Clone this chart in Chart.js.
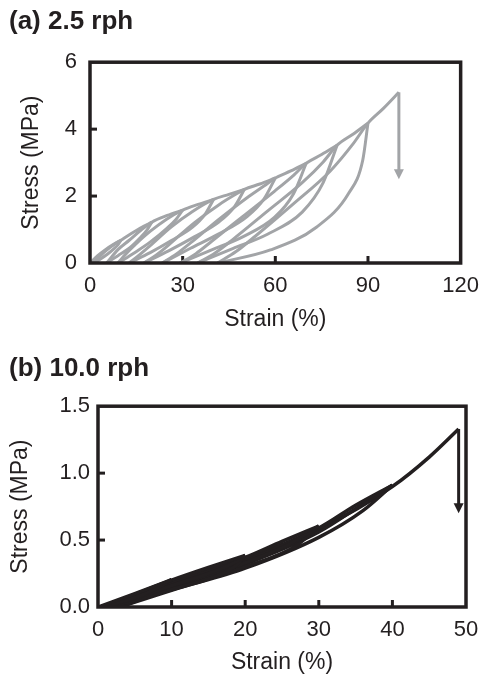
<!DOCTYPE html>
<html><head><meta charset="utf-8">
<script src="https://cdn.jsdelivr.net/npm/chart.js@4.4.0/dist/chart.umd.min.js"></script>
<style>
html,body{margin:0;padding:0;background:#fff;}
#wa{position:absolute;left:0;top:0;width:489px;height:340px;}
#wb{position:absolute;left:0;top:340px;width:489px;height:336px;}
</style></head><body>
<div id="wa"><canvas id="ca"></canvas></div>
<div id="wb"><canvas id="cb"></canvas></div>
<script>
// ---------- (a) 2.5 rph : [strain %, stress MPa] ----------
const a_load10   = [[0,0],[2.5,0.22],[5,0.4],[7.5,0.55],[10,0.68]];
const a_unload10 = [[1.2,0],[3.4,0.12],[5.6,0.26],[7.8,0.43],[9.1,0.55],[10,0.68]];
const a_load20   = [[1.2,0],[3.4,0.22],[5.6,0.4],[7.8,0.55],[10,0.68],[12.5,0.83],[15,0.97],[17.5,1.1],[20,1.22]];
const a_unload20 = [[5.4,0],[9.05,0.22],[12.7,0.44],[16.35,0.76],[18.5,0.99],[20,1.22]];
const a_load30   = [[5.4,0],[9.05,0.4],[12.7,0.68],[16.35,0.97],[20,1.22],[25,1.42],[30,1.58]];
const a_unload30 = [[9.1,0],[14.3,0.3],[19.55,0.63],[24.8,1.03],[27.9,1.31],[30,1.58]];
const a_load40   = [[9.1,0],[11.7,0.28],[14.3,0.52],[19.55,0.95],[24.8,1.31],[30,1.58],[35,1.75],[40,1.9]];
const a_unload40 = [[12.7,0],[19.5,0.31],[26.35,0.67],[33.2,1.07],[37.3,1.46],[40,1.9]];
const a_load50   = [[12.7,0],[16.1,0.25],[19.5,0.52],[26.35,1.08],[33.2,1.54],[40,1.9],[45,2.05],[50,2.2]];
const a_unload50 = [[17.5,0],[25.6,0.37],[33.75,0.78],[41.9,1.24],[46.75,1.68],[50,2.2]];
const a_load60   = [[17.5,0],[21.6,0.25],[25.6,0.55],[33.75,1.2],[41.9,1.75],[46.75,2.03],[50,2.2],[55,2.36],[60,2.54]];
const a_unload60 = [[23.4,0],[32.55,0.44],[41.7,0.87],[50.85,1.39],[56.3,1.91],[60,2.54]];
const a_load70   = [[23.4,0],[28,0.27],[32.55,0.6],[41.7,1.3],[50.85,1.95],[56.3,2.3],[60,2.54],[65,2.75],[70,2.98]];
const a_unload70 = [[29.2,0],[39.4,0.39],[49.6,0.79],[59.8,1.37],[65.9,2.07],[70,2.98]];
const a_load80   = [[29.2,0],[34.3,0.28],[39.4,0.65],[49.6,1.4],[59.8,2.15],[65.9,2.62],[70,2.98],[75,3.24],[80,3.52]];
const a_unload80 = [[34.9,0],[46.2,0.43],[57.45,0.86],[68.7,1.52],[75.5,2.4],[80,3.52]];
const a_load90   = [[34.9,0],[40.5,0.3],[46.2,0.7],[57.45,1.55],[68.7,2.4],[75.5,3.02],[80,3.52],[85,3.84],[90,4.18]];
const a_unload90 = [[41.3,0],[58.4,0.39],[73.3,1.07],[83.8,2.09],[88.3,3.07],[90,4.18]];
const a_load100  = [[41.3,0],[47.4,0.35],[53.5,0.8],[65.65,1.75],[77.8,2.75],[85.1,3.55],[90,4.18],[95,4.62],[100,5.1]];
const a_breakStrain = 100;
const a_breakStress = [5.1, 2.5];
const a_xTicks = [0,30,60,90,120];
const a_xTickLabels = ['0','30','60','90','120'];
const a_yTicks = [0,2,4,6];
const a_yTickLabels = ['0','2','4','6'];

// ---------- (b) 10.0 rph ----------
const b_load10    = [[0,0],[5,0.1],[10,0.205]];
const b_unload10  = [[0.5,0],[5,0.07],[8,0.14],[10,0.205]];
const b_load20    = [[0.5,0],[5,0.095],[10,0.2],[15,0.295],[20,0.385]];
const b_unload20a = [[1,0],[5,0.065],[10,0.16],[15,0.25],[18.5,0.33],[20,0.385]];
const b_unload20b = [[1.5,0],[5,0.05],[10,0.13],[15,0.21],[18.5,0.3],[20,0.385]];
const b_load30    = [[1.5,0],[10,0.19],[20,0.37],[25,0.49],[30,0.605]];
const b_unload30a = [[2,0],[10,0.15],[20,0.33],[26,0.47],[30,0.605]];
const b_unload30b = [[2.5,0],[10,0.13],[20,0.3],[27,0.46],[30,0.605]];
const b_load40    = [[2.5,0],[10,0.175],[20,0.36],[30,0.59],[35,0.76],[40,0.91]];
const b_unload40a = [[3,0],[10,0.14],[20,0.32],[30,0.56],[36,0.77],[40,0.91]];
const b_unload40b = [[3,0],[10,0.125],[20,0.29],[30,0.52],[36,0.72],[40,0.91]];
const b_load50    = [[3,0],[10,0.16],[20,0.35],[30,0.58],[40,0.9],[45,1.12],[49,1.33]];
const b_breakStrain = 49;
const b_breakStress = [1.33, 0.7];
const b_xTicks = [0,10,20,30,40,50];
const b_xTickLabels = ['0','10','20','30','40','50'];
const b_yTicks = [0,0.5,1.0,1.5];
const b_yTickLabels = ['0.0','0.5','1.0','1.5'];

const INK = '#231f20';
const GRAY = '#a2a4a7';
Chart.defaults.font.family = "'Liberation Sans', Arial, sans-serif";
Chart.defaults.color = INK;

function ds(arr, color, w) {
  return {data: arr.map(p => ({x: p[0], y: p[1]})), borderColor: color, borderWidth: w,
    pointRadius: 0, fill: false, cubicInterpolationMode: 'monotone', tension: 0.4};
}

const framePlugin = {
  id: 'frame',
  beforeDatasetsDraw(chart) {
    const {ctx, chartArea: ca, scales: {x, y}} = chart;
    ctx.save();
    ctx.strokeStyle = INK; ctx.lineWidth = 3;
    x.ticks.forEach(t => {
      if (t.value <= x.min || t.value >= x.max) return;
      const px = x.getPixelForValue(t.value);
      ctx.beginPath(); ctx.moveTo(px, ca.bottom); ctx.lineTo(px, ca.bottom - 7); ctx.stroke();
    });
    y.ticks.forEach(t => {
      if (t.value <= y.min || t.value >= y.max) return;
      const py = y.getPixelForValue(t.value);
      ctx.beginPath(); ctx.moveTo(ca.left, py); ctx.lineTo(ca.left + 7, py); ctx.stroke();
    });
    ctx.restore();
  },
  afterDatasetsDraw(chart, args, opts) {
    const {ctx, chartArea: ca, scales: {x, y}} = chart;
    ctx.save();
    const a = opts.arrow;
    if (a) {
      const xp = x.getPixelForValue(a.x);
      const y1 = y.getPixelForValue(a.from), y2 = y.getPixelForValue(a.to);
      const hl = 10, hw = 5;
      ctx.strokeStyle = a.color; ctx.lineWidth = 3;
      ctx.beginPath(); ctx.moveTo(xp, y1); ctx.lineTo(xp, y2 - hl + 1); ctx.stroke();
      ctx.fillStyle = a.color;
      ctx.beginPath(); ctx.moveTo(xp - hw, y2 - hl); ctx.lineTo(xp + hw, y2 - hl); ctx.lineTo(xp, y2); ctx.closePath(); ctx.fill();
    }
    ctx.strokeStyle = INK; ctx.lineWidth = 3.5;
    ctx.strokeRect(ca.left, ca.top, ca.right - ca.left, ca.bottom - ca.top);
    ctx.restore();
  }
};

function makeChart(id, o) {
  return new Chart(document.getElementById(id), {
    type: 'line',
    data: {datasets: o.datasets},
    options: {
      responsive: true, maintainAspectRatio: false, animation: false,
      layout: {padding: {left: 9, right: o.padR, top: 0, bottom: 0}},
      plugins: {
        legend: {display: false}, tooltip: {enabled: false},
        title: {display: true, text: o.title, align: 'start', color: INK,
          font: {size: 26, weight: 'bold', lineHeight: 1.2}, padding: {top: o.tPadT, bottom: o.tPadB}},
        frame: {arrow: o.arrow}
      },
      scales: {
        x: {
          type: 'linear', min: o.xTicks[0], max: o.xTicks[o.xTicks.length - 1],
          afterBuildTicks: s => { s.ticks = o.xTicks.map(v => ({value: v})); },
          afterFit: s => { s.height = o.xH; },
          grid: {display: false, drawTicks: false}, border: {display: false},
          ticks: {font: {size: 22}, color: INK, padding: 10, autoSkip: false, maxRotation: 0,
            callback: (v, i) => o.xLabels[i]},
          title: {display: true, text: 'Strain (%)', color: INK, font: {size: 23, lineHeight: 1.2},
            padding: {top: 0, bottom: o.xtPad}}
        },
        y: {
          type: 'linear', min: o.yTicks[0], max: o.yTicks[o.yTicks.length - 1],
          afterBuildTicks: s => { s.ticks = o.yTicks.map(v => ({value: v})); },
          afterFit: s => { s.width = o.yW; },
          grid: {display: false, drawTicks: false}, border: {display: false},
          ticks: {font: {size: 22}, color: INK, padding: o.yPad, autoSkip: false,
            callback: (v, i) => o.yLabels[i]},
          title: {display: true, text: 'Stress (MPa)', color: INK, font: {size: 23, lineHeight: 1.2},
            padding: {top: o.ytPad, bottom: 0}}
        }
      }
    },
    plugins: [framePlugin]
  });
}

makeChart('ca', {
  title: '(a) 2.5 rph', tPadT: 6, tPadB: 25, padR: 22, xH: 77, yW: 81, yPad: 13, xtPad: 7, ytPad: 9,
  xTicks: a_xTicks, xLabels: a_xTickLabels, yTicks: a_yTicks, yLabels: a_yTickLabels,
  arrow: {x: a_breakStrain, from: a_breakStress[0], to: a_breakStress[1], color: GRAY},
  datasets: [a_load10, a_unload10, a_load20, a_unload20, a_load30, a_unload30, a_load40, a_unload40,
    a_load50, a_unload50, a_load60, a_unload60, a_load70, a_unload70, a_load80, a_unload80,
    a_load90, a_unload90, a_load100].map(d => ds(d, GRAY, 3))
});

makeChart('cb', {
  title: '(b) 10.0 rph', tPadT: 13, tPadB: 22, padR: 23, xH: 69, yW: 89, yPad: 8, xtPad: 0, ytPad: -2,
  xTicks: b_xTicks, xLabels: b_xTickLabels, yTicks: b_yTicks, yLabels: b_yTickLabels,
  arrow: {x: b_breakStrain, from: b_breakStress[0], to: b_breakStress[1], color: INK},
  datasets: [b_load10, b_unload10, b_load20, b_unload20a, b_unload20b, b_load30, b_unload30a, b_unload30b,
    b_load40, b_unload40a, b_unload40b, b_load50].map(d => ds(d, INK, 3.5))
});
</script>
</body></html>
